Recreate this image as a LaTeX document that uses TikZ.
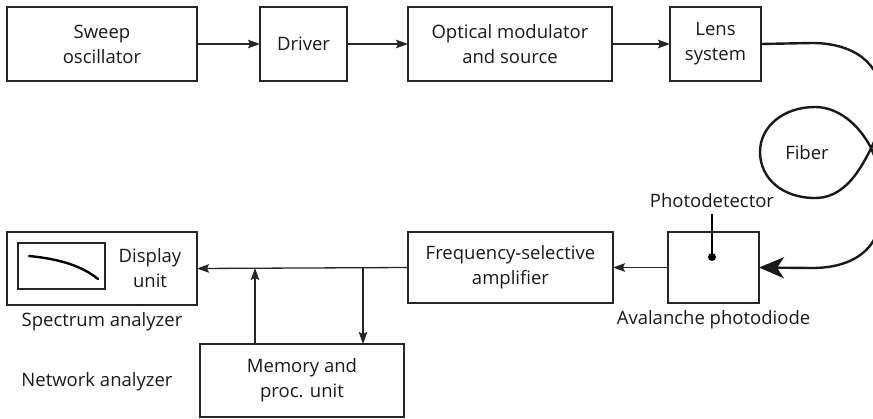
\documentclass[tikz,border=0pt]{standalone}
\usepackage{fontspec}
\setmainfont{Open Sans}
\usetikzlibrary{arrows.meta, positioning}

\begin{document}
\begin{tikzpicture}[
  x=1pt, y=-1pt,
  node distance=62pt,
  every node/.style={font=\fontsize{18.5}{25}\selectfont, text=black!90},
  box/.style={rectangle, draw=black!85, line width=1.4pt, align=center,
              inner sep=0pt, outer sep=0pt, minimum height=74pt},
  arrow/.style={-{Stealth[length=12pt, width=8.5pt, inset=2pt]}, line width=1.3pt, draw=black!85},
  fiber/.style={line width=2.4pt, draw=black!90},
  bigtip/.style={-{Stealth[length=25pt, width=21pt, inset=7pt]}}
]
\useasboundingbox (0,0) rectangle (873,418);

% transmitter side
\node[box, minimum width=190pt] (sweep) at (102,44) {Sweep\\oscillator};
\node[box, minimum width=87pt, right=63pt of sweep] (driver) {Driver};
\node[box, minimum width=204pt, right=61pt of driver] (modulator) {Optical modulator\\and source};
\node[box, minimum width=91pt, right=58pt of modulator] (lens) {Lens\\system};
\draw[arrow] (sweep) -- (driver);
\draw[arrow] (driver) -- (modulator);
\draw[arrow] (modulator) -- (lens);

% receiver side
\node[box, minimum width=91pt, minimum height=71pt] (apd) at (713.5,267.5) {};
\node[box, minimum width=205pt, minimum height=71pt] (amp) at (510.5,267.5) {Frequency-selective\\amplifier};
\node[below=4pt of apd] (apdlabel) {Avalanche photodiode};
\node[circle, fill=black, inner sep=0pt, minimum size=8pt] (pd) at (712,257) {};
\node (pdlabel) at (712,201) {Photodetector};
\draw[line width=1.3pt] (pd.center) -- ([yshift=-2pt]pd |- pdlabel.south);
\draw[arrow] (apd) -- (amp);

% fiber loop
\node (fiberlabel) at (807,153) {Fiber};
\draw[fiber, bigtip] (lens.east) -- (812,43)
  .. controls (852,43) and (882,62) .. (882,100)
  .. controls (882,125) and (876,140) .. (866,158)
  .. controls (852,184) and (836,198) .. (815,198)
  .. controls (782,198) and (760,178) .. (760,152)
  .. controls (760,126) and (784,107) .. (815,107)
  .. controls (838,107) and (858,124) .. (870,146)
  .. controls (880,166) and (882,190) .. (881,215)
  .. controls (879,250) and (852,268) .. (812,268)
  -- (apd.east);

% analyzer side
\node[box, minimum width=190pt, minimum height=73pt] (display) at (102,268.5) {};
\node[rectangle, draw=black!85, line width=1.4pt, minimum width=87pt, minimum height=46pt,
      inner sep=0pt] (screen) at (61.5,266) {};
\draw[line width=2.4pt, line cap=round] (29,256) .. controls (60,259) and (82,266) .. (98,279);
\node[align=center] (displaytext) at (150,268) {Display\\unit};
\node (speclabel) at (102,322) {Spectrum analyzer};
\node[box, minimum width=204pt, minimum height=73pt] (memory) at (302,380.5) {Memory and\\proc. unit};
\node (netlabel) at (97,382) {Network analyzer};
\coordinate (tapin) at (255,268);
\coordinate (tapout) at (363,268);
\draw[arrow] (amp.west) -- (display.east);
\draw[arrow] (memory.north -| tapin) -- (tapin);
\draw[arrow] (tapout) -- (tapout |- memory.north);
\end{tikzpicture}
\end{document}
